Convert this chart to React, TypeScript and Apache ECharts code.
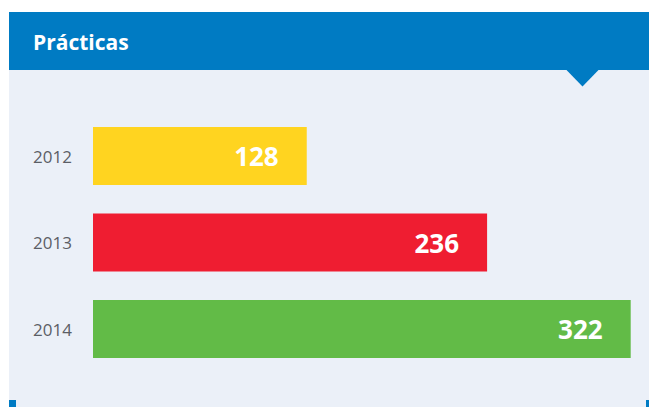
import React, { useEffect, useRef } from "react";
import * as echarts from "echarts";

const years = ["2012", "2013", "2014"];
const values = [128, 236, 322];
const barColors = ["#FFD420", "#EF1D31", "#62BB47"];
const title = "Prácticas";

export default function App() {
  const ref = useRef<HTMLDivElement>(null);
  useEffect(() => {
    if (!ref.current) return;
    const chart = echarts.init(ref.current, null, { renderer: "svg" });
    chart.setOption({
      animation: false,
      graphic: [
        { type: "rect", z: -10, shape: { x: 9, y: 12, width: 640, height: 395 }, style: { fill: "#EBF0F8" } },
        { type: "rect", z: -9, shape: { x: 9, y: 12, width: 640, height: 58 }, style: { fill: "#007BC3" } },
        { type: "polygon", z: -9, shape: { points: [[565.5, 69], [599.5, 69], [582.5, 86.5]] }, style: { fill: "#007BC3" } },
        { type: "text", z: 5, x: 33, y: 42, style: { text: title, fill: "#ffffff", font: "bold 21px 'Open Sans'", textVerticalAlign: "middle" } },
        { type: "rect", z: -8, shape: { x: 9, y: 400, width: 7, height: 7 }, style: { fill: "#007BC3" } },
        { type: "rect", z: -8, shape: { x: 646, y: 400, width: 3, height: 7 }, style: { fill: "#007BC3" } },
      ],
      grid: { left: 93, right: 18.3, top: 112.75, bottom: 34.75, containLabel: false },
      xAxis: { type: "value", min: 0, max: 322, show: false },
      yAxis: {
        type: "category",
        data: years,
        inverse: true,
        axisLine: { show: false },
        axisTick: { show: false },
        splitLine: { show: false },
        axisLabel: { margin: 21, color: "#5B5E66", fontSize: 17, fontFamily: "Open Sans" },
      },
      series: [
        {
          type: "bar",
          barWidth: 58,
          data: values.map((v, i) => ({ value: v, itemStyle: { color: barColors[i] } })),
          label: {
            show: true,
            position: "insideRight",
            distance: 28,
            color: "#ffffff",
            fontSize: 26,
            fontWeight: "bold",
            fontFamily: "Open Sans",
          },
        },
      ],
    });
    return () => chart.dispose();
  }, []);
  return <div ref={ref} style={{ position: "absolute", left: 0, top: 0, width: 649, height: 407 }} />;
}
